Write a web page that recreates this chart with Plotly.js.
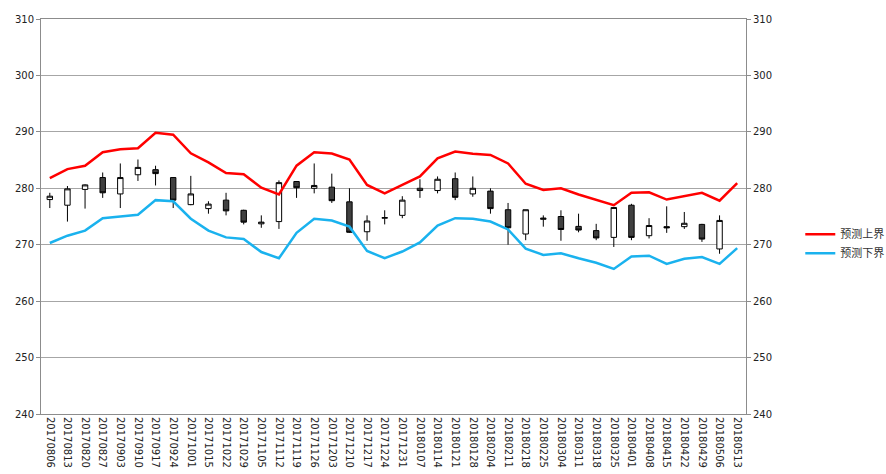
<!DOCTYPE html>
<html>
<head>
<meta charset="utf-8">
<script src="https://cdn.plot.ly/plotly-3.0.1.min.js"></script>
<style>html,body{margin:0;padding:0;background:#fff;}#chart{width:886px;height:474px;}</style>
</head>
<body>
<div id="chart"></div>
<script>
const dates = ["20170806","20170813","20170820","20170827","20170903","20170910","20170917","20170924","20171001","20171015","20171022","20171029","20171105","20171112","20171119","20171126","20171203","20171210","20171217","20171224","20171231","20180107","20180114","20180121","20180128","20180204","20180211","20180218","20180225","20180304","20180311","20180318","20180325","20180401","20180408","20180415","20180422","20180429","20180506","20180513"];
const candleDates = dates.slice(0, 39);
const openV  = [278.0,277.0,279.8,281.9,279.0,282.4,283.3,281.9,277.1,276.4,277.9,276.1,273.7,274.1,281.2,280.0,280.2,277.6,272.3,274.7,275.2,279.6,279.6,281.7,279.0,279.5,276.2,271.9,274.5,275.0,273.25,272.5,271.3,277.0,271.6,273.2,273.2,273.6,269.25];
const highV  = [279.2,280.4,280.7,282.8,284.4,285.1,284.0,282.0,282.2,277.7,279.2,276.2,275.2,281.4,281.2,284.4,282.6,280.0,275.2,276.1,278.6,281.6,282.1,282.8,282.1,280.0,277.4,276.2,275.2,276.1,275.5,273.7,276.7,277.25,274.7,276.8,275.8,273.7,275.2];
const lowV   = [276.5,274.1,276.4,278.3,276.5,281.3,280.5,276.5,277.0,275.5,275.2,273.6,273.0,272.8,278.3,279.1,277.4,272.1,270.7,273.6,274.7,278.3,279.1,277.9,278.5,275.5,270.0,270.8,273.2,270.7,272.2,270.8,269.6,270.8,271.1,272.1,272.8,270.5,268.4];
const closeV = [278.6,279.9,280.6,279.2,281.9,283.7,282.6,277.9,279.0,277.2,276.0,274.0,274.0,281.0,280.1,280.5,277.8,272.2,274.2,274.8,277.9,280.0,281.6,278.4,280.0,276.4,273.0,276.2,274.7,272.7,272.6,271.2,276.6,271.3,273.4,273.0,273.8,271.0,274.3];
const upperV = [281.8,283.4,284.0,286.4,286.9,287.1,289.85,289.5,286.2,284.6,282.7,282.5,280.1,278.9,284.0,286.4,286.15,285.1,280.6,279.1,280.6,282.1,285.3,286.5,286.1,285.9,284.4,280.8,279.7,280.0,278.9,278.0,277.0,279.2,279.3,278.0,278.6,279.2,277.8,280.9];
const lowerV = [270.3,271.6,272.5,274.7,275.0,275.3,277.9,277.7,274.6,272.5,271.3,271.0,268.7,267.6,272.1,274.6,274.3,273.2,268.9,267.6,268.8,270.4,273.4,274.7,274.6,274.1,272.7,269.3,268.2,268.5,267.6,266.8,265.7,267.9,268.05,266.6,267.5,267.8,266.6,269.4];
const seriesNames = ["预测上界","预测下界"];
const yTicks = [240,250,260,270,280,290,300,310];

const traces = [
  {
    type: "candlestick", x: candleDates, open: openV, high: highV, low: lowV, close: closeV,
    showlegend: false, whiskerwidth: 0,
    increasing: {line: {color: "#000000", width: 1}, fillcolor: "#ffffff"},
    decreasing: {line: {color: "#000000", width: 1}, fillcolor: "#404040"},
    hoverinfo: "skip"
  },
  {type: "scatter", mode: "lines", x: dates, y: upperV, name: seriesNames[0], line: {color: "#ff0000", width: 2.5}},
  {type: "scatter", mode: "lines", x: dates, y: lowerV, name: seriesNames[1], yaxis: "y2", line: {color: "#1ab2ee", width: 2.5}}
];

const tickFont = {family: "DejaVu Sans, Verdana, sans-serif", size: 10, color: "#222"};
const layout = {
  width: 886, height: 474,
  margin: {l: 41, r: 140, t: 19, b: 60, pad: 0, autoexpand: false},
  paper_bgcolor: "#ffffff", plot_bgcolor: "#ffffff",
  showlegend: true, boxgap: 0.56,
  legend: {x: 1.077, xanchor: "left", y: 0.492, yanchor: "top", font: {family: "Noto Sans CJK SC, sans-serif", size: 11, color: "#333"}, itemwidth: 30, tracegroupgap: 0, bgcolor: "rgba(0,0,0,0)"},
  xaxis: {
    type: "category", categoryorder: "array", categoryarray: dates,
    range: [-0.5, dates.length - 0.5],
    rangeslider: {visible: false},
    tickangle: 90, tickfont: tickFont, ticks: "", showgrid: false,
    showline: true, linecolor: "#8c8c8c", linewidth: 1, mirror: true, zeroline: false,
    automargin: false
  },
  yaxis: {
    range: [240, 310], tickvals: yTicks, tickfont: tickFont,
    ticks: "outside", ticklen: 4, tickcolor: "#8c8c8c",
    showgrid: true, gridcolor: "#a6a6a6", gridwidth: 1,
    showline: true, linecolor: "#8c8c8c", linewidth: 1, mirror: true, zeroline: false,
    automargin: false
  },
  yaxis2: {
    range: [240, 310], tickvals: yTicks, tickfont: tickFont, overlaying: "y", side: "right",
    ticks: "outside", ticklen: 4, tickcolor: "#8c8c8c",
    showgrid: false, showline: false, zeroline: false, automargin: false
  }
};
Plotly.newPlot("chart", traces, layout, {staticPlot: true, displayModeBar: false});
</script>
</body>
</html>
